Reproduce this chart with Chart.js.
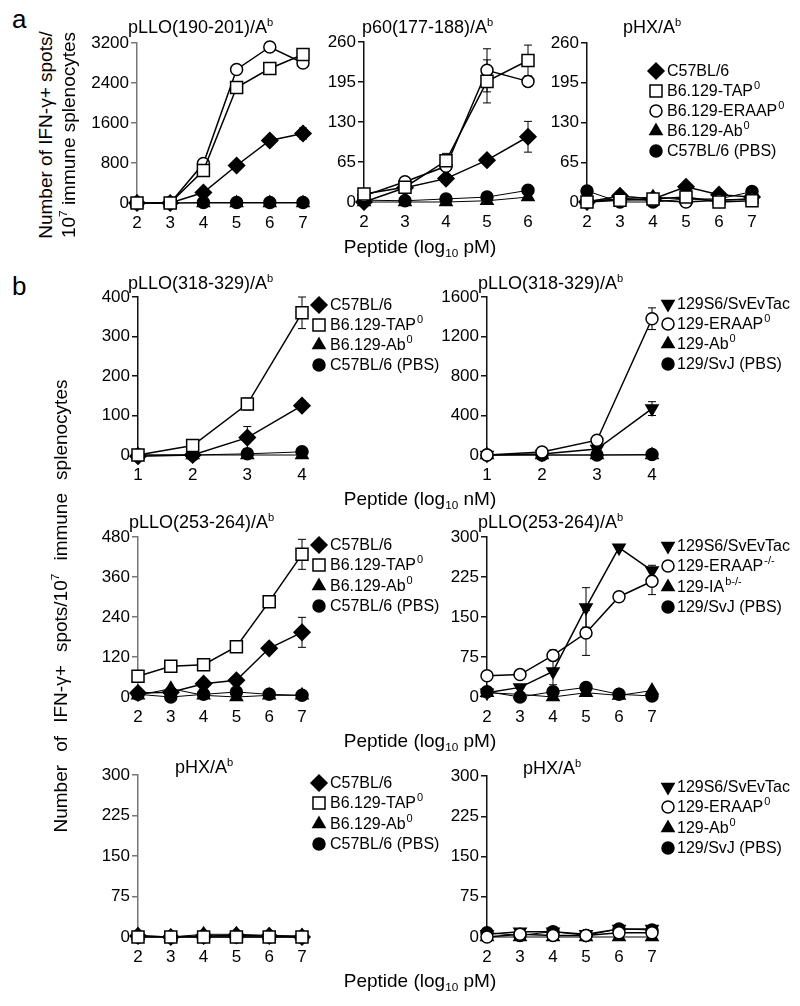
<!DOCTYPE html>
<html><head><meta charset="utf-8">
<script src="https://cdn.jsdelivr.net/npm/chart.js@4.4.1/dist/chart.umd.min.js"></script>
<style>
html,body{margin:0;padding:0;background:#fff}
body{width:800px;height:1006px;position:relative;overflow:hidden;font-family:"Liberation Sans",Arial,Helvetica,sans-serif;color:#000}
.t{position:absolute;white-space:nowrap;line-height:1}
canvas{position:absolute}
sup{font-size:0.62em;vertical-align:0.6em;line-height:0}
sub{font-size:0.62em;vertical-align:-0.35em;line-height:0}
.rot{position:absolute;white-space:nowrap;line-height:1;transform:translate(-50%,-50%) rotate(-90deg)}
.spread{display:flex;justify-content:space-between}
</style>
</head><body>
<script>
// ---------------- DATA ----------------
const xA = [2, 3, 4, 5, 6, 7];
const xA2 = [2, 3, 4, 5, 6];
const xNM = [1, 2, 3, 4];

const labelsB6 = ["C57BL/6", "B6.129-TAP^0", "B6.129-ERAAP^0", "B6.129-Ab^0", "C57BL/6 (PBS)"];
const labelsB6b = ["C57BL/6", "B6.129-TAP^0", "B6.129-Ab^0", "C57BL/6 (PBS)"];
const labels129 = ["129S6/SvEvTac", "129-ERAAP^0", "129-Ab^0", "129/SvJ (PBS)"];
const labels129b = ["129S6/SvEvTac", "129-ERAAP^-/-", "129-IA^b-/-", "129/SvJ (PBS)"];

// a: pLLO(190-201)/Ab
const a1_C57   = [0, 0, 210, 750, 1250, 1390];
const a1_C57e  = [0, 0, 0, 0, 60, 110];
const a1_TAP   = [0, 0, 650, 2310, 2690, 2970];
const a1_ERAAP = [0, 0, 790, 2670, 3120, 2800];
const a1_Ab0   = [0, 0, 0, 0, 0, 0];
const a1_PBS   = [0, 0, 10, 10, 10, 10];
// a: p60(177-188)/Ab
const a2_C57    = [0, 23, 38, 68, 106];
const a2_C57e   = [0, 0, 5, 5, 25];
const a2_TAP    = [13, 24, 67, 196, 230];
const a2_TAPe   = [0, 3, 12, 35, 25];
const a2_ERAAP  = [10, 33, 58, 214, 196];
const a2_ERAAPe = [0, 3, 5, 35, 5];
const a2_Ab0    = [0, 0, 0, 2, 8];
const a2_PBS    = [3, 2, 5, 8, 19];
// a: pHX/Ab
const a3_C57   = [0, 10, 5, 25, 12, 8];
const a3_TAP   = [0, 3, 5, 8, 0, 2];
const a3_ERAAP = [0, 5, 3, 0, 3, 5];
const a3_Ab0   = [2, 5, 8, 5, 3, 5];
const a3_PBS   = [18, 0, 0, 5, 5, 17];
// b row 1: pLLO(318-329)/Ab (log10 nM)
const b1L_C57  = [-3, 0, 44, 125];
const b1L_C57e = [0, 0, 28, 12];
const b1L_TAP  = [0, 24, 129, 360];
const b1L_TAPe = [0, 0, 15, 40];
const b1L_Ab0  = [0, 0, 0, 0];
const b1L_PBS  = [0, 0, 3, 8];
const b1R_SvEv   = [0, 10, 60, 470];
const b1R_SvEve  = [0, 0, 0, 70];
const b1R_ERAAP  = [0, 30, 150, 1380];
const b1R_ERAAPe = [0, 0, 0, 110];
const b1R_Ab0    = [0, 0, 0, 0];
const b1R_PBS    = [0, 0, 0, 5];
// b row 2: pLLO(253-264)/Ab
const b2L_C57  = [12, 14, 40, 50, 146, 194];
const b2L_C57e = [0, 0, 0, 0, 8, 45];
const b2L_TAP  = [62, 92, 97, 151, 286, 428];
const b2L_TAPe = [0, 0, 0, 0, 8, 45];
const b2L_Ab0  = [5, 25, 5, 0, 5, 5];
const b2L_PBS  = [8, 0, 8, 15, 8, 5];
const b2R_SvEv   = [8, 18, 48, 168, 280, 237];
const b2R_SvEve  = [0, 0, 25, 37, 3, 10];
const b2R_ERAAP  = [40, 42, 78, 120, 188, 217];
const b2R_ERAAPe = [0, 0, 10, 42, 8, 25];
const b2R_IA     = [8, 5, 0, 8, 3, 12];
const b2R_PBS    = [10, 0, 10, 18, 5, 2];
// b row 3: pHX/Ab
const b3L_C57 = [2, 0, 2, 3, 2, 0];
const b3L_TAP = [0, 0, 0, 0, 0, 0];
const b3L_Ab0 = [3, 0, 5, 5, 3, 2];
const b3L_PBS = [0, 0, 0, 0, 0, 0];
const b3R_SvEv  = [5, 10, 10, 5, 15, 15];
const b3R_ERAAP = [0, 5, 3, 3, 8, 8];
const b3R_Ab0   = [0, 0, 0, 0, 0, 0];
const b3R_PBS   = [8, 3, 10, 3, 15, 13];

// ---------------- STYLE ----------------
const FONT = '"Liberation Sans", Arial, Helvetica, sans-serif';
const ST = {
  C57:   {ps: 'rectRot', r: 8,   fill: '#000', lw: 1.5, order: 2},
  TAP:   {ps: 'rect',    r: 8.5, fill: '#fff', lw: 1.5, order: 0},
  ERAAP: {ps: 'circle',  r: 6,   fill: '#fff', lw: 1.5, order: 1},
  Ab0:   {ps: 'triangle',r: 7,   fill: '#000', lw: 1,   order: 3},
  PBS:   {ps: 'circle',  r: 6,   fill: '#000', lw: 1,   order: 4},
  SvEv:  {ps: 'triangle',r: 7,   fill: '#000', lw: 1.5, order: 2, rot: 180}
};

function ds(label, xs, ys, st, errs) {
  return {
    label, data: xs.map((x, i) => ({x, y: ys[i]})),
    borderColor: '#000', borderWidth: st.lw, tension: 0, fill: false,
    pointStyle: st.ps, pointRadius: st.r, pointRotation: st.rot || 0,
    pointBackgroundColor: st.fill, pointBorderColor: '#000', pointBorderWidth: 1.5,
    backgroundColor: st.fill, order: st.order, clip: false, errors: errs || null
  };
}

const errPlugin = {
  id: 'errbars',
  beforeDatasetsDraw(chart) {
    const ctx = chart.ctx, ys = chart.scales.y;
    chart.data.datasets.forEach((d, i) => {
      if (!d.errors) return;
      const meta = chart.getDatasetMeta(i);
      meta.data.forEach((pt, j) => {
        const e = d.errors[j];
        if (!e) return;
        const v = d.data[j].y;
        const y1 = ys.getPixelForValue(v + e), y2 = ys.getPixelForValue(v - e);
        ctx.save();
        ctx.strokeStyle = '#000'; ctx.lineWidth = 1;
        ctx.beginPath();
        ctx.moveTo(pt.x, y1); ctx.lineTo(pt.x, y2);
        ctx.moveTo(pt.x - 4, y1); ctx.lineTo(pt.x + 4, y1);
        ctx.moveTo(pt.x - 4, y2); ctx.lineTo(pt.x + 4, y2);
        ctx.stroke();
        ctx.restore();
      });
    });
  }
};

const legendPlugin = {
  id: 'sideLegend',
  afterDraw(chart, args, opts) {
    if (!opts || !opts.rows) return;
    const ctx = chart.ctx;
    const ox = opts.canvasLeft, oy = opts.canvasTop;
    chart.data.datasets.forEach((d, i) => {
      const x = opts.x - ox, y = opts.rows[i] - oy;
      ctx.save();
      ctx.fillStyle = d.pointBackgroundColor;
      ctx.strokeStyle = '#000';
      ctx.lineWidth = 1.5;
      Chart.helpers.drawPoint(ctx, {pointStyle: d.pointStyle, rotation: d.pointRotation, radius: d.pointRadius, borderWidth: 1.5}, x, y);
      ctx.fillStyle = '#000';
      ctx.textBaseline = 'middle';
      ctx.textAlign = 'left';
      const parts = d.label.split('^');
      ctx.font = '16px ' + FONT;
      let tx = x + opts.gap;
      ctx.fillText(parts[0], tx, y + 1);
      if (parts[1]) {
        tx += ctx.measureText(parts[0]).width + 1;
        ctx.font = '11px ' + FONT;
        ctx.fillText(parts[1], tx, y - 5);
      }
      ctx.restore();
    });
  }
};

function panel(cfg) {
  const padTop = 20, xAxisH = 40, yAxisW = 60;
  const left = cfg.axisX - yAxisW, top = cfg.topPx - padTop;
  const right = Math.max(cfg.rightPx + 22, cfg.legendRight || 0);
  const W = right - left, H = (cfg.zeroPx - cfg.topPx) + padTop + xAxisH;
  const cv = document.createElement('canvas');
  cv.width = W; cv.height = H;
  cv.style.left = left + 'px'; cv.style.top = top + 'px';
  cv.style.width = W + 'px'; cv.style.height = H + 'px';
  document.body.appendChild(cv);
  const ac = cfg.axisColor || '#111';
  new Chart(cv, {
    type: 'line',
    data: {datasets: cfg.datasets},
    options: {
      responsive: false, animation: false, devicePixelRatio: 1, events: [],
      layout: {padding: {top: padTop, right: right - cfg.rightPx, left: 0, bottom: 0}},
      scales: {
        x: {type: 'linear', min: cfg.xMin, max: cfg.xMax,
            afterFit(s) { s.height = xAxisH; },
            grid: {display: false, drawTicks: false}, border: {display: false},
            ticks: {stepSize: 1, color: '#000', font: {family: FONT, size: 17}, padding: 10, maxRotation: 0, autoSkip: false}},
        y: {type: 'linear', min: 0, max: cfg.yMax,
            afterFit(s) { s.width = yAxisW; },
            grid: {display: true, drawOnChartArea: false, drawTicks: true, tickLength: 6, color: ac, lineWidth: 1.5},
            border: {display: true, color: ac, width: 1.5},
            ticks: {stepSize: cfg.yStep, color: '#000', font: {family: FONT, size: 17}, padding: 2, autoSkip: false,
                    callback: v => String(v)}}
      },
      plugins: {
        legend: {display: false}, tooltip: {enabled: false},
        sideLegend: cfg.legend ? {x: cfg.legend.x, rows: cfg.legend.rows, gap: cfg.legend.gap || 11, canvasLeft: left, canvasTop: top} : {}
      }
    },
    plugins: [errPlugin, legendPlugin]
  });
}

// ---------------- PANELS ----------------
panel({axisX: 137, rightPx: 303, topPx: 43, zeroPx: 203, xMin: 2, xMax: 7, yMax: 3200, yStep: 800, axisColor: '#777',
  datasets: [
    ds(labelsB6[0], xA, a1_C57, ST.C57, a1_C57e),
    ds(labelsB6[1], xA, a1_TAP, ST.TAP),
    ds(labelsB6[2], xA, a1_ERAAP, ST.ERAAP),
    ds(labelsB6[3], xA, a1_Ab0, ST.Ab0),
    ds(labelsB6[4], xA, a1_PBS, ST.PBS)]});

panel({axisX: 364, rightPx: 528, topPx: 42, zeroPx: 202, xMin: 2, xMax: 6, yMax: 260, yStep: 65,
  datasets: [
    ds(labelsB6[0], xA2, a2_C57, ST.C57, a2_C57e),
    ds(labelsB6[1], xA2, a2_TAP, ST.TAP, a2_TAPe),
    ds(labelsB6[2], xA2, a2_ERAAP, ST.ERAAP, a2_ERAAPe),
    ds(labelsB6[3], xA2, a2_Ab0, ST.Ab0),
    ds(labelsB6[4], xA2, a2_PBS, ST.PBS)]});

panel({axisX: 587, rightPx: 752, topPx: 43, zeroPx: 202, xMin: 2, xMax: 7, yMax: 260, yStep: 65, legendRight: 798,
  legend: {x: 656, rows: [71, 91, 111, 131, 151], gap: 11},
  datasets: [
    ds(labelsB6[0], xA, a3_C57, ST.C57),
    ds(labelsB6[1], xA, a3_TAP, ST.TAP),
    ds(labelsB6[2], xA, a3_ERAAP, ST.ERAAP),
    ds(labelsB6[3], xA, a3_Ab0, ST.Ab0),
    ds(labelsB6[4], xA, a3_PBS, ST.PBS)]});

panel({axisX: 138, rightPx: 302, topPx: 297, zeroPx: 455, xMin: 1, xMax: 4, yMax: 400, yStep: 100, legendRight: 470,
  legend: {x: 319, rows: [305, 325, 345, 365], gap: 11},
  datasets: [
    ds(labelsB6b[0], xNM, b1L_C57, ST.C57, b1L_C57e),
    ds(labelsB6b[1], xNM, b1L_TAP, ST.TAP, b1L_TAPe),
    ds(labelsB6b[2], xNM, b1L_Ab0, ST.Ab0),
    ds(labelsB6b[3], xNM, b1L_PBS, ST.PBS)]});

panel({axisX: 487, rightPx: 652, topPx: 297, zeroPx: 455, xMin: 1, xMax: 4, yMax: 1600, yStep: 400, legendRight: 798,
  legend: {x: 668, rows: [304, 324, 344, 364], gap: 9},
  datasets: [
    ds(labels129[0], xNM, b1R_SvEv, ST.SvEv, b1R_SvEve),
    ds(labels129[1], xNM, b1R_ERAAP, ST.ERAAP, b1R_ERAAPe),
    ds(labels129[2], xNM, b1R_Ab0, ST.Ab0),
    ds(labels129[3], xNM, b1R_PBS, ST.PBS)]});

panel({axisX: 138, rightPx: 302, topPx: 537, zeroPx: 697, xMin: 2, xMax: 7, yMax: 480, yStep: 120, axisColor: '#777', legendRight: 470,
  legend: {x: 319, rows: [545, 565, 586, 606], gap: 11},
  datasets: [
    ds(labelsB6b[0], xA, b2L_C57, ST.C57, b2L_C57e),
    ds(labelsB6b[1], xA, b2L_TAP, ST.TAP, b2L_TAPe),
    ds(labelsB6b[2], xA, b2L_Ab0, ST.Ab0),
    ds(labelsB6b[3], xA, b2L_PBS, ST.PBS)]});

panel({axisX: 487, rightPx: 652, topPx: 537, zeroPx: 697, xMin: 2, xMax: 7, yMax: 300, yStep: 75, legendRight: 798,
  legend: {x: 668, rows: [546, 566, 587, 607], gap: 9},
  datasets: [
    ds(labels129b[0], xA, b2R_SvEv, ST.SvEv, b2R_SvEve),
    ds(labels129b[1], xA, b2R_ERAAP, ST.ERAAP, b2R_ERAAPe),
    ds(labels129b[2], xA, b2R_IA, ST.Ab0),
    ds(labels129b[3], xA, b2R_PBS, ST.PBS)]});

panel({axisX: 138, rightPx: 302, topPx: 775, zeroPx: 937, xMin: 2, xMax: 7, yMax: 300, yStep: 75, axisColor: '#777', legendRight: 470,
  legend: {x: 319, rows: [783, 803, 824, 844], gap: 11},
  datasets: [
    ds(labelsB6b[0], xA, b3L_C57, ST.C57),
    ds(labelsB6b[1], xA, b3L_TAP, ST.TAP),
    ds(labelsB6b[2], xA, b3L_Ab0, ST.Ab0),
    ds(labelsB6b[3], xA, b3L_PBS, ST.PBS)]});

panel({axisX: 487, rightPx: 652, topPx: 776, zeroPx: 937, xMin: 2, xMax: 7, yMax: 300, yStep: 75, legendRight: 798,
  legend: {x: 668, rows: [787, 807, 828, 848], gap: 9},
  datasets: [
    ds(labels129[0], xA, b3R_SvEv, ST.SvEv),
    ds(labels129[1], xA, b3R_ERAAP, ST.ERAAP),
    ds(labels129[2], xA, b3R_Ab0, ST.Ab0),
    ds(labels129[3], xA, b3R_PBS, ST.PBS)]});
</script>

<!-- panel letters -->
<div class="t" style="left:12px;top:6px;font-size:26px">a</div>
<div class="t" style="left:12px;top:273px;font-size:26px">b</div>

<!-- titles -->
<div class="t" style="left:128px;top:18px;font-size:18px">pLLO(190-201)/A<sup>b</sup></div>
<div class="t" style="left:362px;top:18px;font-size:18px">p60(177-188)/A<sup>b</sup></div>
<div class="t" style="left:623px;top:18px;font-size:18px">pHX/A<sup>b</sup></div>
<div class="t" style="left:128px;top:274px;font-size:18px">pLLO(318-329)/A<sup>b</sup></div>
<div class="t" style="left:478px;top:274px;font-size:18px">pLLO(318-329)/A<sup>b</sup></div>
<div class="t" style="left:129px;top:513px;font-size:18px">pLLO(253-264)/A<sup>b</sup></div>
<div class="t" style="left:478px;top:513px;font-size:18px">pLLO(253-264)/A<sup>b</sup></div>
<div class="t" style="left:175px;top:758px;font-size:18px">pHX/A<sup>b</sup></div>
<div class="t" style="left:523px;top:759px;font-size:18px">pHX/A<sup>b</sup></div>

<!-- x axis titles -->
<div class="t" style="left:420px;top:237px;font-size:19px;transform:translateX(-50%)">Peptide (log<sub>10</sub> pM)</div>
<div class="t" style="left:420px;top:489px;font-size:19px;transform:translateX(-50%)">Peptide (log<sub>10</sub> nM)</div>
<div class="t" style="left:420px;top:731px;font-size:19px;transform:translateX(-50%)">Peptide (log<sub>10</sub> pM)</div>
<div class="t" style="left:420px;top:971px;font-size:19px;transform:translateX(-50%)">Peptide (log<sub>10</sub> pM)</div>

<!-- y axis titles -->
<div class="rot" style="left:45px;top:135px;font-size:19px">Number of IFN-γ+ spots/</div>
<div class="rot" style="left:68px;top:135px;font-size:19px">10<sup>7</sup> immune splenocytes</div>
<div class="rot spread" style="left:60px;top:606px;font-size:19px;width:453px"><span>Number</span><span>of</span><span>IFN-γ+</span><span>spots/10<sup>7</sup></span><span>immune</span><span>splenocytes</span></div>
</body></html>
